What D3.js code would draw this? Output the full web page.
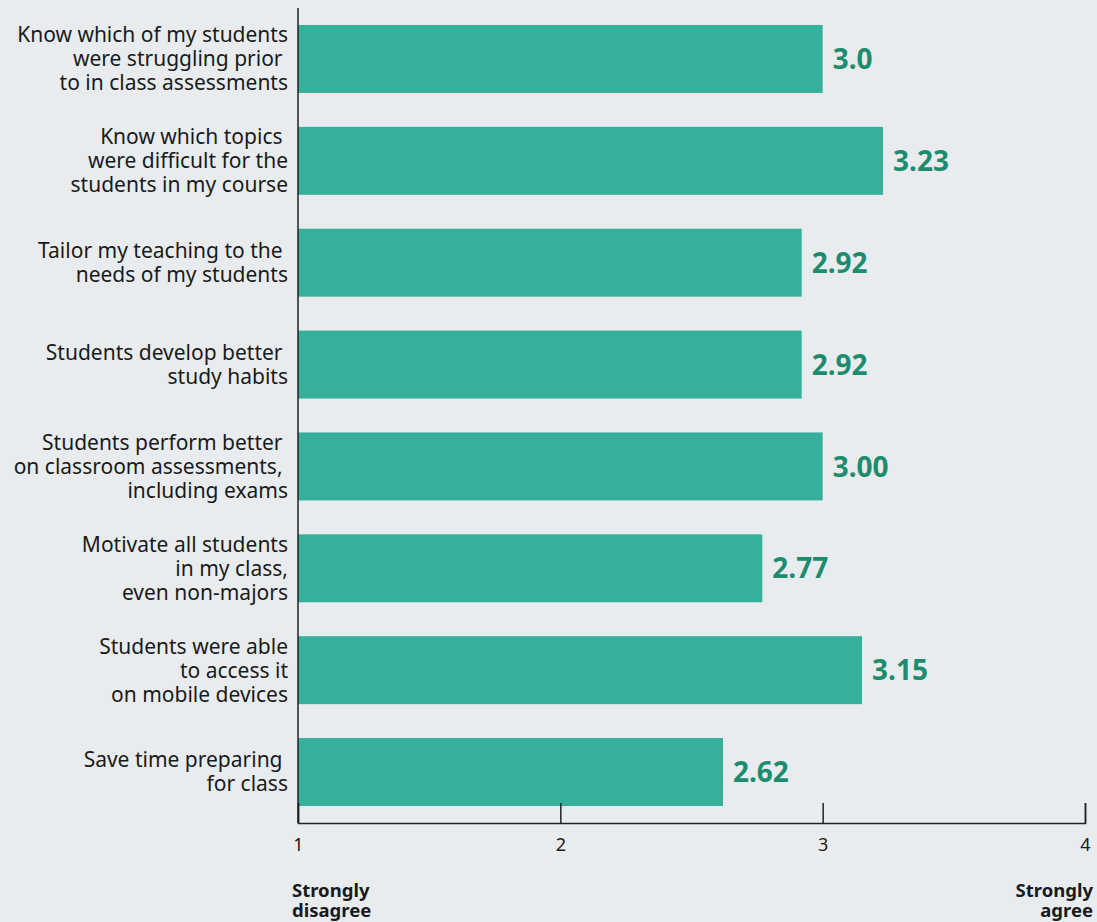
<!DOCTYPE html>
<html>
<head>
<meta charset="utf-8">
<script src="https://cdn.jsdelivr.net/npm/d3@7"></script>
<style>
  body { margin: 0; background: #e8ecef; }
  svg { display: block; font-family: "Noto Sans", Lato, sans-serif; }
</style>
</head>
<body>
<div id="chart"></div>
<script>
// Data
const labels = [
    ["Know which of my students", "were struggling prior ", "to in class assessments"],
    ["Know which topics ", "were difficult for the", "students in my course"],
    ["Tailor my teaching to the ", "needs of my students"],
    ["Students develop better ", "study habits"],
    ["Students perform better ", "on classroom assessments, ", "including exams"],
    ["Motivate all students", "in my class,", "even non-majors"],
    ["Students were able", "to access it", "on mobile devices"],
    ["Save time preparing ", "for class"]
];
const values = [3.0, 3.23, 2.92, 2.92, 3.00, 2.77, 3.15, 2.62];
const valueText = ["3.0", "3.23", "2.92", "2.92", "3.00", "2.77", "3.15", "2.62"];
const ticks = [1, 2, 3, 4];

const width = 1097, height = 922;
const margin = { top: 8, right: 12, bottom: 99, left: 298 };
const font = "\"Noto Sans\", Lato, sans-serif";

const svg = d3.select("#chart").append("svg")
    .attr("width", width)
    .attr("height", height);

svg.append("rect").attr("width", width).attr("height", height).attr("fill", "#e8ecef");

const x = d3.scaleLinear()
    .domain([1, 4])
    .range([margin.left, width - margin.right]);

const y = d3.scaleBand()
    .domain(d3.range(values.length))
    .range([margin.top, height - margin.bottom])
    .paddingInner(0.333)
    .paddingOuter(0.1667);

// bars
svg.selectAll(".bar")
    .data(values)
    .enter()
    .append("rect")
    .attr("class", "bar")
    .attr("x", x(1))
    .attr("y", (d, i) => y(i))
    .attr("width", d => x(d) - x(1))
    .attr("height", y.bandwidth())
    .attr("fill", "#36b09b");

// value labels
svg.selectAll(".val")
    .data(values)
    .enter()
    .append("text")
    .attr("class", "val")
    .attr("x", d => x(d) + 10)
    .attr("y", (d, i) => y(i) + y.bandwidth() / 2)
    .attr("dy", "0.36em")
    .attr("font-size", 28)
    .attr("font-weight", "bold")
    .attr("fill", "#1d8c6e")
    .text((d, i) => valueText[i]);

// category labels
const lineH = 24;
labels.forEach((lines, i) => {
    const cy = y(i) + y.bandwidth() / 2;
    const t = svg.append("text")
        .attr("text-anchor", "end")
        .attr("font-size", 21)
        .attr("fill", "#1a1a1a")
        .style("white-space", "pre");
    lines.forEach((l, j) => {
        t.append("tspan")
            .attr("x", margin.left - 10)
            .attr("y", cy + (j - (lines.length - 1) / 2) * lineH)
            .attr("dy", "0.35em")
            .text(l);
    });
});

// x axis
const xAxis = d3.axisBottom(x)
    .tickValues(ticks)
    .tickFormat(d3.format("d"))
    .tickSize(-20)
    .tickPadding(15);

const gx = svg.append("g")
    .attr("transform", `translate(0,${height - margin.bottom})`)
    .call(xAxis);
gx.selectAll("path, line").attr("stroke", "#222").attr("stroke-width", 1.5);
gx.selectAll("text").attr("font-size", 18).attr("fill", "#1a1a1a")
    .attr("font-family", font);

// y axis line
svg.append("line")
    .attr("x1", x(1)).attr("x2", x(1))
    .attr("y1", margin.top).attr("y2", height - margin.bottom)
    .attr("stroke", "#222")
    .attr("stroke-width", 1.5);

// end labels
const ends = [
    { v: 1, anchor: "start", dx: -6, lines: ["Strongly", "disagree"] },
    { v: 4, anchor: "end", dx: 8, lines: ["Strongly", "agree"] }
];
ends.forEach(e => {
    const t = svg.append("text")
        .attr("text-anchor", e.anchor)
        .attr("font-size", 18.5)
        .attr("font-weight", "bold")
        .attr("fill", "#1a1a1a");
    e.lines.forEach((l, j) => {
        t.append("tspan")
            .attr("x", x(e.v) + e.dx)
            .attr("y", 897 + j * 20)
            .text(l);
    });
});
</script>
</body>
</html>
